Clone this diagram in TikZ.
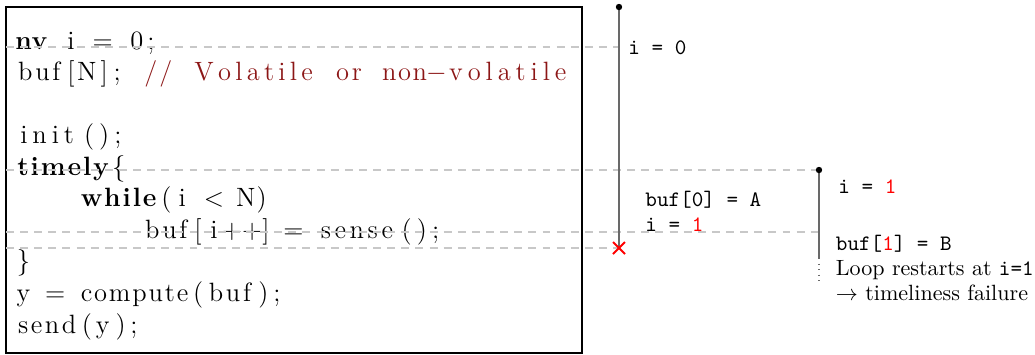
\documentclass[tikz,border=0pt]{standalone}
\usepackage{xcolor}
\definecolor{cmt}{RGB}{140,22,22}
\definecolor{tl}{RGB}{105,105,105}
\definecolor{dl}{RGB}{200,200,200}
\makeatletter
\newdimen\cw
\setlength{\cw}{7.2pt}
\newcommand\tk[1]{\count@=0 \@tfor\tkx:=#1\do{\advance\count@\@ne}\hbox to \count@\cw{\hss\@tfor\tkx:=#1\do{\tkx\hss}}}
\makeatother
\newcommand\sk{\hbox to\cw{}}
\newcommand\mn{\ensuremath{-}}
\tikzset{
  code/.style={anchor=base west, inner sep=0pt, font=\fontsize{12}{14}\selectfont},
  lbl/.style={anchor=base west, inner sep=0pt, font=\fontsize{10}{12}\selectfont},
  tlbl/.style={lbl, font=\fontsize{10}{12}\selectfont\ttfamily},
  frame/.style={draw=black, line width=0.55pt},
  guide/.style={draw=dl, line width=0.6pt, dash pattern=on 3.6pt off 2.8pt},
  tline/.style={draw=tl, line width=0.9pt},
  tdot/.style={circle, fill=black, inner sep=0pt, minimum size=2.9pt},
  fail/.style={draw=red, line width=0.9pt}
}
\begin{document}
\begin{tikzpicture}[x=0.4533pt, y=-0.4533pt]
\useasboundingbox (0,0) rectangle (1035,354);
% code frame
\draw[frame] (6,7) rectangle (582,353);
% code lines
\node[code] (c0) at (15,49) {{\bfseries\tk{nv}}\sk\tk{i}\sk\tk{=}\sk\tk{0;}};
\node[code] (c1) at (15,80.6) {\tk{buf}\tk{[}\tk{N}\tk{];}\sk{\color{cmt}\tk{//}\sk\tk{Volatile}\sk\tk{or}\sk\tk{non}\tk{\mn}\tk{volatile}}};
\node[code] (c3) at (15,143.7) {\tk{init}\tk{();}};
\node[code] (c4) at (15,175.2) {{\bfseries\tk{timely}}\tk{\{}};
\node[code] (c5) at (15,206.8) {\sk\sk\sk\sk{\bfseries\tk{while}}\tk{(}\tk{i}\sk\tk{<}\sk\tk{N}\tk{)}};
\node[code] (c6) at (15,238.3) {\sk\sk\sk\sk\sk\sk\sk\sk\tk{buf}\tk{[}\tk{i}\tk{++]}\sk\tk{=}\sk\tk{sense}\tk{();}};
\node[code] (c7) at (15,269.9) {\tk{\}}};
\node[code] (c8) at (15,301.4) {\tk{y}\sk\tk{=}\sk\tk{compute}\tk{(}\tk{buf}\tk{);}};
\node[code] (c9) at (15,333) {\tk{send}\tk{(}\tk{y}\tk{);}};
% timeline anchors
\coordinate (t1top) at (619,7);
\coordinate (t1x) at (619,248);
\coordinate (t1a) at (619,47);
\coordinate (t2top) at (819,170);
\coordinate (t2b) at (819,232);
\coordinate (t2end) at (819,258);
\coordinate (t2dots) at (819,283);
\coordinate (g1) at (6,47);
\coordinate (g2) at (6,170);
\coordinate (g3) at (6,232);
\coordinate (g4) at (6,248);
% guide lines
\draw[guide] (g1) -- (t1a);
\draw[guide] (g2) -- (t2top);
\draw[guide] (g3) -- (t2b);
\draw[guide] (g4) -- (t1x);
% timelines
\draw[tline] (t1top) -- (t1x);
\draw[tline] (t2top) -- (t2end);
\draw[draw=tl, line width=0.5pt, dotted] (t2end) -- (t2dots);
\node[tdot] (d1) at (t1top) {};
\node[tdot] (d2) at (t2top) {};
\draw[fail] ([shift={(-6,-6)}]t1x) -- ([shift={(6,6)}]t1x);
\draw[fail] ([shift={(-6,6)}]t1x) -- ([shift={(6,-6)}]t1x);
% labels
\node[tlbl] (s0) at (628,54) {i = 0};
\node[tlbl] (s1) at (645,206.5) {buf[0] = A};
\node[tlbl] (s2) at (645,231.5) {i = \textcolor{red}{1}};
\node[tlbl] (s3) at (838,193) {i = \textcolor{red}{1}};
\node[tlbl] (s4) at (835.5,250.5) {buf[\textcolor{red}{1}] = B};
\node[lbl] (s5) at (835.5,275.5) {Loop restarts at \texttt{i=1}};
\node[lbl] (s6) at (835.5,300) {$\rightarrow$ timeliness failure};
\end{tikzpicture}
\end{document}
